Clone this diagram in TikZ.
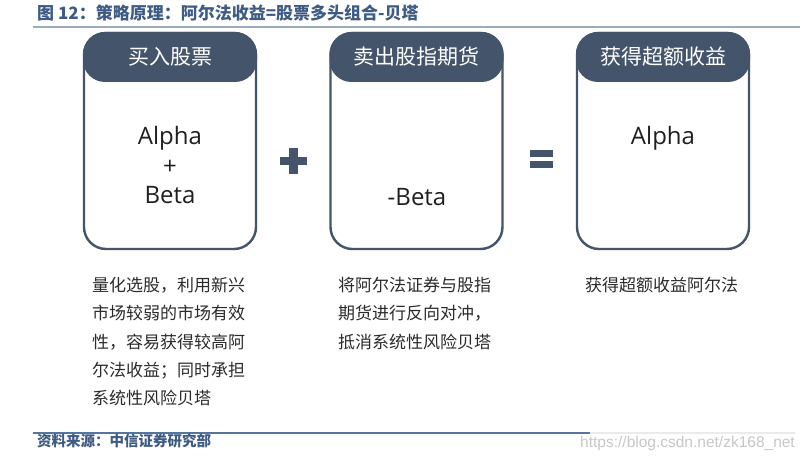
\documentclass[tikz,border=0pt]{standalone}
\usepackage{fontspec}
\setmainfont{Open Sans}
\newfontfamily\cjk{Noto Sans CJK SC}
\newfontfamily\wmfont{Liberation Sans}
\definecolor{slate}{HTML}{44546A}
\definecolor{titleblue}{HTML}{3E5B84}
\definecolor{ruleblue}{HTML}{9AACBB}
\definecolor{footblue}{HTML}{5676A2}
\definecolor{bodytext}{HTML}{2B2B2B}
\tikzset{
  x=1pt, y=-1pt,
  box/.style={draw=slate, line width=2.4pt, rounded corners=22pt, minimum width=172pt, minimum height=216pt, inner sep=0pt},
  head/.style={fill=slate, rounded corners=22pt, minimum width=174pt, minimum height=50pt, inner sep=0pt, text=white, font=\cjk\fontsize{21}{24}\selectfont},
  latin/.style={text=black!88, font=\fontsize{24}{28}\selectfont, inner sep=0pt},
  desc/.style={anchor=base west, inner sep=0pt, text=bodytext, font=\cjk\fontsize{17}{20}\selectfont},
}
\begin{document}
\begin{tikzpicture}
\useasboundingbox (0,0) rectangle (803,457);
\fill[white] (0,0) rectangle (803,457);
% title
\node[anchor=base west, inner sep=0pt, text=titleblue, font=\cjk\bfseries\fontsize{17}{19}\selectfont] (title) at (37,19.5) {图 12：策略原理：阿尔法收益=股票多头组合-贝塔};
\draw[ruleblue, line width=1.5pt] (33,27) coordinate (tl) -- (800,27) coordinate (tr);
% boxes
\node[box] (b1) at (170,141) {};
\node[box] (b2) at (416.5,141) {};
\node[box] (b3) at (663,141) {};
\node[head] (h1) at (170,57) {买入股票};
\node[head] (h2) at (416.5,57) {卖出股指期货};
\node[head] (h3) at (663,57) {获得超额收益};
% contents
\node[latin] (a1) at (170,138) {Alpha};
\node[latin] (p1) at (170,167) {+};
\node[latin] (be1) at (170,195) {Beta};
\node[latin] (be2) at (417,197) {-Beta};
\node[latin] (a3) at (663,138) {Alpha};
% operators
\fill[slate] (280,157) rectangle (307,165.5);
\fill[slate] (289,148.5) rectangle (297.5,174);
\fill[slate] (530,150) rectangle (553,157);
\fill[slate] (530,161.5) rectangle (553,168.5);
% descriptions
\node[desc] (d11) at (92,291.5) {量化选股，利用新兴};
\node[desc] (d12) at (92,319.8) {市场较弱的市场有效};
\node[desc] (d13) at (92,348.1) {性，容易获得较高阿};
\node[desc] (d14) at (92,376.4) {尔法收益；同时承担};
\node[desc] (d15) at (92,404.7) {系统性风险贝塔};
\node[desc] (d21) at (338,291.5) {将阿尔法证券与股指};
\node[desc] (d22) at (338,319.8) {期货进行反向对冲，};
\node[desc] (d23) at (338,348.1) {抵消系统性风险贝塔};
\node[desc] (d31) at (585,291.5) {获得超额收益阿尔法};
% footer
\draw[black!8, line width=1.2pt] (590,433) -- (795,433);
\draw[footblue, line width=1.5pt] (33,433) coordinate (fl) -- (590,433) coordinate (fr);
\node[anchor=base west, inner sep=0pt, text=titleblue, font=\cjk\bfseries\fontsize{14.5}{16}\selectfont] (src) at (37,446.5) {资料来源：中信证券研究部};
\node[anchor=base east, inner sep=0pt, text=black!22, font=\wmfont\fontsize{15.5}{17}\selectfont] (wm) at (795,447.5) {https://blog.csdn.net/zk168\_net};
\end{tikzpicture}
\end{document}
